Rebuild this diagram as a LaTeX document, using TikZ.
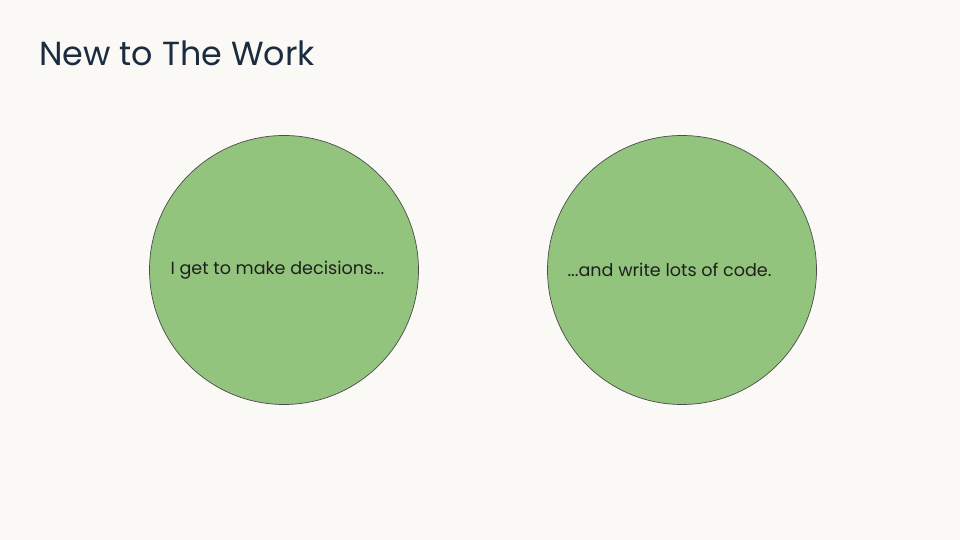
\documentclass[tikz,border=0pt]{standalone}
\usepackage{fontspec}
\setmainfont{Poppins}
\usepackage{xcolor}
\usetikzlibrary{positioning}
\definecolor{paper}{HTML}{FAF9F5}
\definecolor{leaf}{HTML}{93C47D}
\definecolor{navy}{HTML}{1B2B40}
\definecolor{ink}{HTML}{1F1F1F}
\tikzset{
    bubble/.style={circle, draw=black!70, fill=leaf, thin, minimum size=5.38cm, inner sep=0pt},
    caption/.style={anchor=west, inner sep=0pt, text=ink, font=\fontsize{10}{12}\selectfont},
}

\begin{document}
\begin{tikzpicture}
    \fill[paper] (0,0) rectangle (19.2,10.8);
    \useasboundingbox (0,0) rectangle (19.2,10.8);
    \node[anchor=base west, text=navy, font=\fontsize{19}{22}\selectfont, inner sep=0pt] (title) at (0.78,9.48) {New to The Work};
    \node[bubble] (decide) at (5.68,5.4) {};
    \node[bubble] (code) at (13.64,5.4) {};
    \node[caption, right=0.42cm of decide.west] (decidetext) {I get to make decisions...};
    \node[caption, right=0.4cm of code.west] (codetext) {...and write lots of code.};
\end{tikzpicture}
\end{document}
